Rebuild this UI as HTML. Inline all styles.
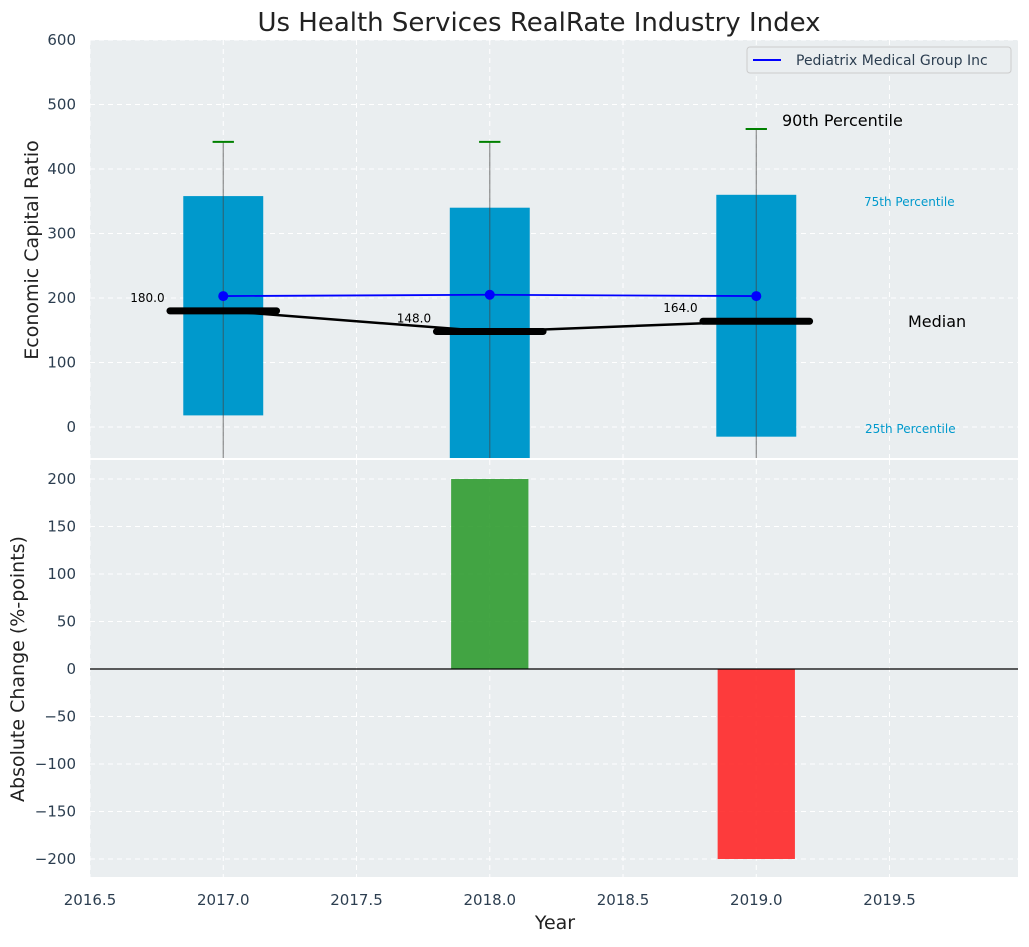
<!DOCTYPE html>
<html><head><meta charset="utf-8"><style>
body{margin:0;background:#fff;font-family:"Liberation Sans","DejaVu Sans",sans-serif;}
svg text{font-family:"DejaVu Sans","Liberation Sans",sans-serif;}
</style></head><body>
<svg id="c" width="1029" height="942" xmlns="http://www.w3.org/2000/svg"></svg>
<script>
const years=[2017,2018,2019];
const p75=[358,340,360];
const p25=[18,-60,-15];
const p90=[442,442,462];
const p10=[-80,-80,-80];
const medians=[180,148,164];
const company=[203,205,203];
const changes=[0,200,-200];
const xTicks=[2016.5,2017.0,2017.5,2018.0,2018.5,2019.0,2019.5];
const yTopTicks=[0,100,200,300,400,500,600];
const yBotTicks=[-200,-150,-100,-50,0,50,100,150,200];

const svg=document.getElementById('c');const NS='http://www.w3.org/2000/svg';
function mk(t,a,txt){const e=document.createElementNS(NS,t);for(const k in a)e.setAttribute(k,a[k]);if(txt!==undefined)e.textContent=txt;svg.appendChild(e);return e;}
const fmt=v=>String(v).replace('-','\u2212');
const L=90,R=1018,T1=40,B1=458,T2=460,B2=877;
const X=v=>L+(v-2016.5)*(R-L)/(2019.982-2016.5);
const Y1=v=>427-0.645*v;
const Y2=v=>669-0.95*v;
const clip1=mk('clipPath',{id:'k1'});const cr=document.createElementNS(NS,'rect');cr.setAttribute('x',L);cr.setAttribute('y',T1);cr.setAttribute('width',R-L);cr.setAttribute('height',B1-T1);clip1.appendChild(cr);

let e=mk('rect',{x:L,y:T1,width:R-L,height:B1-T1,fill:'#eaeef0'});

e=mk('rect',{x:L,y:T2,width:R-L,height:B2-T2,fill:'#eaeef0'});


xTicks.forEach(t=>{
 [[T1,B1],[T2,B2]].forEach(r=>{e=mk('line',{x1:X(t),x2:X(t),y1:r[0],y2:r[1],stroke:'#fff','stroke-dasharray':'5,4','stroke-width':1});});
 e=mk('text',{x:X(t),y:905,'text-anchor':'middle','font-size':15,fill:'#2c3e50'},t.toFixed(1));
 
});
yTopTicks.forEach(t=>{
 e=mk('line',{x1:L,x2:R,y1:Y1(t),y2:Y1(t),stroke:'#fff','stroke-dasharray':'5,4'});
 e=mk('text',{x:76,y:Y1(t)+5,'text-anchor':'end','font-size':15,fill:'#2c3e50'},fmt(t));
 
});
yBotTicks.forEach(t=>{
 e=mk('line',{x1:L,x2:R,y1:Y2(t),y2:Y2(t),stroke:'#fff','stroke-dasharray':'5,4'});
 e=mk('text',{x:76,y:Y2(t)+5,'text-anchor':'end','font-size':15,fill:'#2c3e50'},fmt(t));
 
});
const g=document.createElementNS(NS,'g');g.setAttribute('clip-path','url(#k1)');svg.appendChild(g);
function mg(t,a){const el=document.createElementNS(NS,t);for(const k in a)el.setAttribute(k,a[k]);g.appendChild(el);return el;}
const bw=0.15;
years.forEach((yr,i)=>{
 e=mg('rect',{x:X(yr-bw),y:Y1(p75[i]),width:X(yr+bw)-X(yr-bw),height:Y1(p25[i])-Y1(p75[i]),fill:'#0099cc'});
 
 e=mg('line',{x1:X(yr),x2:X(yr),y1:Y1(p90[i]),y2:Y1(p10[i]),stroke:'#444','stroke-opacity':0.6,'stroke-width':1.2});
 
 e=mg('line',{x1:X(yr-0.04),x2:X(yr+0.04),y1:Y1(p90[i]),y2:Y1(p90[i]),stroke:'green','stroke-width':2});
 
});
let pts=years.map((y,i)=>X(y)+','+Y1(medians[i])).join(' ');
e=mg('polyline',{points:pts,fill:'none',stroke:'#000','stroke-width':2.5});

years.forEach((yr,i)=>{
 e=mg('line',{x1:X(yr-0.2),x2:X(yr+0.2),y1:Y1(medians[i]),y2:Y1(medians[i]),stroke:'#000','stroke-width':7,'stroke-linecap':'round'});
 
 e=mk('text',{x:X(yr-0.22),y:Y1(medians[i])-9,'text-anchor':'end','font-size':12,fill:'#000'},medians[i].toFixed(1));
 
});
pts=years.map((y,i)=>X(y)+','+Y1(company[i])).join(' ');
e=mg('polyline',{points:pts,fill:'none',stroke:'blue','stroke-width':1.8});

years.forEach((yr,i)=>{e=mg('circle',{cx:X(yr),cy:Y1(company[i]),r:5,fill:'blue'});});

e=mk('text',{x:782,y:126,'font-size':16,fill:'#000'},'90th Percentile');
e=mk('text',{x:864,y:206,'font-size':12,fill:'#0099cc'},'75th Percentile');
e=mk('text',{x:908,y:327,'font-size':16,fill:'#000'},'Median');
e=mk('text',{x:865,y:433,'font-size':12,fill:'#0099cc'},'25th Percentile');

e=mk('rect',{x:747,y:47,width:264,height:26,fill:'#eaeef0',stroke:'#ccc',rx:3});
e=mk('line',{x1:753,x2:781,y1:60,y2:60,stroke:'blue','stroke-width':2});
e=mk('text',{x:796,y:65,'font-size':14,fill:'#2c3e50'},'Pediatrix Medical Group Inc');

years.forEach((yr,i)=>{
 if(!changes[i])return;
 const v=changes[i];
 e=mk('rect',{x:X(yr-0.145),y:Math.min(Y2(v),Y2(0)),width:X(yr+0.145)-X(yr-0.145),height:Math.abs(Y2(v)-Y2(0)),fill:v>0?'#2a9a2a':'#ff2222','fill-opacity':0.88});
 
});
e=mk('line',{x1:L,x2:R,y1:Y2(0),y2:Y2(0),stroke:'#000','stroke-width':1.2});

e=mk('text',{x:539,y:31,'text-anchor':'middle','font-size':26,fill:'#222'},'Us Health Services RealRate Industry Index');
e=mk('text',{x:555,y:929,'text-anchor':'middle','font-size':19,fill:'#222'},'Year');
e=mk('text',{x:0,y:0,'text-anchor':'middle','font-size':19,fill:'#222',transform:'translate(38,250) rotate(-90)'},'Economic Capital Ratio');
e=mk('text',{x:0,y:0,'text-anchor':'middle','font-size':19,fill:'#222',transform:'translate(24,669) rotate(-90)'},'Absolute Change (%-points)');
</script>
</body></html>
